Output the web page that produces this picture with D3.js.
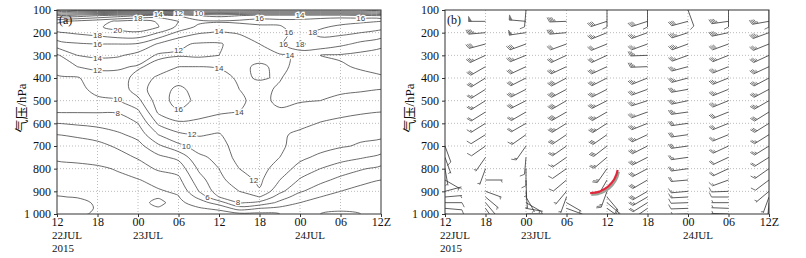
<!DOCTYPE html>
<html lang="zh">
<head>
<meta charset="UTF-8">
<title>风速时间-高度剖面</title>
<script src="https://d3js.org/d3.v7.min.js"></script>
<style>
  body { margin: 0; background: #fff; }
  .tick text, .tag { font-family: "Liberation Serif", "Times New Roman", serif; font-size: 12px; fill: #111; }
  .date { font-family: "Liberation Serif", "Times New Roman", serif; font-size: 11px; fill: #111; }
  .ylab { font-family: "Liberation Serif", "Noto Sans CJK SC", serif; font-size: 13px; fill: #111; }
  .grid line { stroke: #aaa; stroke-width: 0.8; stroke-dasharray: 1,2; }
  .iso { fill: none; stroke: #3a3a3a; stroke-width: 0.75; }
  .clabel { font-family: "Liberation Sans", Arial, sans-serif; font-size: 8px; fill: #444;
            stroke: #fff; stroke-width: 2.5px; paint-order: stroke; text-anchor: middle; dominant-baseline: central; }
</style>
</head>
<body>
<div id="chart"></div>
<script>
// hours since 12Z 22 JUL 2015
const hours = [0, 3, 6, 9, 12, 15, 18, 21, 24, 27, 30, 33, 36, 39, 42, 45, 48];
const levels = [100, 125, 150, 175, 200, 250, 300, 350, 400, 450, 500, 550, 600, 650, 700, 750, 800, 850, 900, 925, 950, 975, 1000];

// wind speed (m/s), one row per hour, values follow `levels`
const speedByHour = [
  [3, 12, 17.5, 19, 17.8, 15.2, 11.7, 10.9, 9.7, 9.3, 9.0, 8.1, 6.0, 4.0, 3.0, 2.2, 1.6, 1.3, 1.6, 2.1, 3.0, 3.0, 2.6],
  [3, 13, 18.5, 19.5, 18.3, 15.8, 14.0, 12.0, 9.8, 9.4, 9.1, 8.1, 6.3, 4.3, 3.1, 2.3, 1.7, 1.4, 1.5, 1.9, 2.6, 2.8, 2.5],
  [3, 14, 19.3, 19.8, 18.8, 16.0, 14.5, 12.4, 11.2, 10.6, 9.6, 8.1, 6.6, 4.8, 3.4, 2.5, 1.8, 1.5, 1.4, 1.5, 1.7, 1.8, 1.6],
  [3, 15, 20.3, 20.5, 19.6, 16.0, 14.3, 12.3, 11.3, 10.7, 9.9, 8.1, 7.2, 5.6, 4.3, 3.2, 2.1, 1.7, 1.5, 1.5, 1.5, 1.5, 1.3],
  [3, 16, 20.8, 21.0, 19.8, 15.8, 13.3, 11.8, 12.5, 13.0, 11.5, 9.6, 8.0, 6.7, 5.3, 4.2, 3.0, 1.9, 1.5, 1.5, 1.6, 1.5, 1.2],
  [3.5, 17, 19.8, 20.1, 18.0, 13.8, 11.7, 12.5, 14.5, 15.2, 15.0, 14.3, 12.3, 10.0, 7.6, 5.5, 4.3, 2.6, 1.8, 1.9, 2.3, 1.9, 1.3],
  [4, 16, 18, 17.5, 15.5, 12.3, 11.8, 14.0, 15.2, 16.4, 16.8, 15.8, 13.6, 11.6, 9.5, 6.5, 4.8, 3.5, 2.3, 1.9, 1.5, 1.2, 0.9],
  [4, 14, 16.5, 15.5, 14.2, 11.8, 11.6, 14.0, 14.8, 15.3, 15.5, 14.8, 13.5, 12.2, 10.8, 9.6, 8.3, 7.2, 6.0, 4.5, 3.0, 1.8, 1.0],
  [4, 13.5, 16.2, 15, 13.8, 11.8, 12.0, 13.9, 14.5, 14.8, 14.8, 14.2, 13.2, 11.8, 11.0, 10.5, 10.0, 9.5, 9.0, 8.0, 5.0, 2.5, 1.0],
  [4, 14, 16.5, 15, 14.2, 12.8, 12.8, 13.6, 13.8, 14.0, 14.2, 14.0, 13.9, 13.5, 13.2, 12.8, 12.0, 11.0, 10.0, 9.0, 8.2, 5.0, 1.5],
  [4, 15, 16.8, 15.5, 14.5, 14.0, 13.3, 14.3, 14.1, 13.6, 13.6, 13.8, 13.9, 13.5, 13.3, 13.0, 12.7, 12.4, 11.8, 10.0, 7.5, 4.0, 1.5],
  [4, 15, 16.5, 15.8, 14.8, 15.5, 13.8, 13.6, 13.9, 14.2, 14.3, 13.8, 12.8, 12.3, 12.3, 12.0, 11.2, 10.0, 8.5, 7.0, 5.5, 3.5, 2.0],
  [4, 15, 16.5, 17, 17.5, 18.2, 14.2, 14.5, 14.8, 14.6, 14.2, 13.0, 12.5, 11.6, 11.3, 10.5, 9.2, 7.8, 6.2, 5.0, 4.0, 3.0, 2.0],
  [4, 15, 17, 17.8, 18.3, 17.5, 14.0, 14.5, 15.0, 14.8, 14.0, 12.8, 11.9, 11.0, 10.8, 9.5, 8.0, 6.5, 5.0, 4.0, 3.2, 2.6, 2.0],
  [4, 15, 17.5, 18.3, 18.5, 16.5, 13.8, 14.2, 14.8, 14.4, 13.5, 12.5, 11.5, 10.0, 10.2, 8.8, 7.0, 5.5, 4.0, 3.2, 2.5, 2.2, 1.8],
  [4, 14.5, 17.8, 18.5, 18.0, 15.5, 13.4, 13.8, 14.5, 14.2, 13.3, 12.2, 11.2, 10.4, 9.8, 8.2, 6.2, 4.7, 3.2, 2.4, 2.2, 2.6, 2.0],
  [4, 14, 18, 18.5, 17.5, 14.5, 13.2, 13.5, 14.2, 14.0, 13.2, 12.0, 11.0, 10.5, 9.2, 7.5, 5.5, 4.0, 2.8, 2.0, 2.5, 3.0, 2.5]
];

const contourLevels = [2, 4, 6, 8, 10, 12, 14, 16, 18, 20];

// contour labels: [hour, hPa, value]
const labelSpots = [
  [6.1, 109, 4], [12.5, 125, 18], [15.0, 118, 14], [17.5, 118, 12], [19.7, 113, 10], [27.1, 104, 6],
  [30.4, 140, 16], [34.8, 144, 14], [36.0, 122, 18], [34.8, 179, 16], [46.4, 131, 16],
  [10.4, 175, 20], [4.6, 215, 18], [6.1, 250, 16], [17.9, 224, 12], [23.7, 184, 14],
  [6.1, 316, 14], [6.1, 360, 12], [23.9, 351, 14], [9.0, 488, 10], [8.9, 554, 8], [17.9, 541, 16],
  [19.4, 643, 12], [19.7, 704, 10], [28.6, 594, 14], [29.8, 841, 12], [34.1, 268, 16],
  [36.1, 263, 18], [36.1, 298, 14], [21.2, 978, 6], [25.6, 965, 8]
];

// wind barbs (b): stations every 6 h
const barbHours = [0, 6, 12, 18, 24, 30, 36, 42, 48];
const barbLevels = [100, 150, 200, 250, 300, 350, 400, 450, 500, 550, 600, 650, 700, 750, 800, 850, 900, 925, 950, 975, 1000];
// direction wind blows from (deg), one row per barb hour
const dirByHour = [
  [330, 250, 250, 250, 250, 250, 250, 250, 250, 250, 250, 240, 160, 160, 170, 120, 75, 85, 90, 95, 100],
  [330, 270, 265, 255, 245, 240, 238, 238, 238, 238, 238, 238, 235, 215, 200, 90, 110, 130, 140, 145, 150],
  [185, 275, 262, 250, 248, 245, 243, 243, 243, 240, 240, 235, 215, 185, 180, 178, 175, 150, 120, 100, 90],
  [330, 268, 265, 250, 245, 245, 242, 242, 240, 240, 238, 236, 235, 235, 235, 230, 220, 200, 120, 110, 100],
  [180, 252, 248, 248, 245, 245, 243, 243, 243, 240, 237, 235, 232, 230, 215, 210, 200, 140, 130, 125, 120],
  [180, 252, 250, 250, 268, 268, 248, 250, 252, 250, 248, 245, 243, 243, 242, 240, 240, 240, 238, 235, 235],
  [160, 255, 252, 250, 250, 255, 255, 260, 258, 262, 262, 262, 262, 262, 262, 265, 265, 267, 268, 268, 268],
  [180, 262, 258, 250, 248, 248, 248, 248, 248, 248, 248, 248, 245, 245, 245, 250, 268, 270, 270, 272, 272],
  [180, 260, 250, 248, 245, 245, 242, 242, 240, 238, 238, 238, 238, 238, 235, 233, 230, 200, 185, 182, 180]
];

const pressureTicks = [100, 200, 300, 400, 500, 600, 700, 800, 900, 1000];
const hourTicks = [0, 6, 12, 18, 24, 30, 36, 42, 48];
const hourLabels = ["12", "18", "00", "06", "12", "18", "00", "06", "12Z"];
const dateLabels = [{ h: 0, lines: ["22JUL", "2015"] }, { h: 12, lines: ["23JUL"] }, { h: 36, lines: ["24JUL"] }];
const circled = { h: 21.5, p: 784 };

const svg = d3.select("#chart").append("svg")
  .attr("width", 806).attr("height", 258)
  .style("background", "#fff");

const y = d3.scaleLinear().domain([100, 1000]).range([10, 214]);
const panels = [
  { id: "a", left: 57, right: 381 },
  { id: "b", left: 445, right: 769 }
];

panels.forEach(pn => {
  pn.x = d3.scaleLinear().domain([0, 48]).range([pn.left, pn.right]);
  svg.append("clipPath").attr("id", "clip-" + pn.id)
    .append("rect").attr("x", pn.left).attr("y", 10)
    .attr("width", pn.right - pn.left).attr("height", 204);

  const grid = svg.append("g").attr("class", "grid");
  grid.selectAll("line.v").data(hourTicks.slice(1, -1)).join("line")
    .attr("x1", d => pn.x(d)).attr("x2", d => pn.x(d)).attr("y1", 10).attr("y2", 214);
  grid.selectAll("line.h").data(pressureTicks.slice(1, -1)).join("line")
    .attr("x1", pn.left).attr("x2", pn.right).attr("y1", d => y(d)).attr("y2", d => y(d));

  pn.plot = svg.append("g").attr("clip-path", `url(#clip-${pn.id})`);

  svg.append("g").attr("transform", `translate(${pn.left},0)`).attr("color", "#333")
    .call(d3.axisLeft(y).tickValues(pressureTicks).tickSize(3).tickPadding(3)
      .tickFormat(d => d === 1000 ? "1 000" : d))
    .call(a => a.select(".domain").remove());

  svg.append("g").attr("transform", "translate(0,214)").attr("color", "#333")
    .call(d3.axisBottom(pn.x).tickValues(hourTicks).tickSize(3).tickPadding(0)
      .tickFormat((d, i) => hourLabels[i]))
    .call(a => a.select(".domain").remove());

  dateLabels.forEach(dl => {
    dl.lines.forEach((s, k) => {
      svg.append("text").attr("class", "date")
        .attr("x", pn.x(dl.h) - 5).attr("y", 238.5 + k * 13).text(s);
    });
  });

  svg.append("rect").attr("x", pn.left).attr("y", 10)
    .attr("width", pn.right - pn.left).attr("height", 204)
    .attr("fill", "none").attr("stroke", "#333").attr("stroke-width", 1);

  svg.append("text").attr("class", "tag").attr("x", pn.left + 2).attr("y", 24).text(`(${pn.id})`);

  svg.append("text").attr("class", "ylab")
    .attr("transform", `translate(${pn.left - 31},108) rotate(-90)`)
    .attr("text-anchor", "middle").text("气压/hPa");
});

// ---- (a) contours of wind speed
function piece(arr, f) {
  const k = Math.max(0, Math.min(arr.length - 2, Math.floor(f)));
  return arr[k] + (f - k) * (arr[k + 1] - arr[k]);
}
const nx = hours.length, ny = levels.length;
const values = [];
for (let j = 0; j < ny; j++) for (let i = 0; i < nx; i++) values.push(speedByHour[i][j]);
const isolines = d3.contours().size([nx, ny]).thresholds(contourLevels)(values);

const pa = panels[0];
const toPx = c => [pa.x(piece(hours, c[0] - 0.5)), y(piece(levels, c[1] - 0.5))];
const ringLine = d3.line().curve(d3.curveCatmullRomClosed.alpha(0.5));

isolines.forEach(geo => {
  geo.coordinates.forEach(poly => poly.forEach(ring => {
    pa.plot.append("path").attr("class", "iso").attr("d", ringLine(ring.map(toPx)));
  }));
});

labelSpots.forEach(([h, p, v]) => {
  const geo = isolines.find(g => g.value === v);
  if (!geo) return;
  const tx = pa.x(h), ty = y(p);
  let best = null, bd = Infinity;
  geo.coordinates.forEach(poly => poly.forEach(ring => ring.forEach(c => {
    const q = toPx(c);
    if (q[0] < pa.left + 4 || q[0] > pa.right - 4 || q[1] < 13 || q[1] > 211) return;
    const d = Math.hypot(q[0] - tx, q[1] - ty);
    if (d < bd) { bd = d; best = q; }
  })));
  if (!best || bd > 22) return;
  pa.plot.append("text").attr("class", "clabel").attr("x", best[0]).attr("y", best[1]).text(v);
});

// ---- (b) wind barbs
const pb = panels[1];
function barb(g, sx, sy, dir, spd) {
  const a = dir * Math.PI / 180;
  const dx = Math.sin(a), dy = -Math.cos(a);
  const px = -dy, py = dx;
  const L = 17;
  g.append("line").attr("x1", sx).attr("y1", sy).attr("x2", sx + dx * L).attr("y2", sy + dy * L)
    .attr("stroke", "#333").attr("stroke-width", 0.8);
  let s = Math.round(spd / 2) * 2;
  const flags = Math.floor(s / 20); s -= flags * 20;
  const full = Math.floor(s / 4); s -= full * 4;
  const half = s >= 2 ? 1 : 0;
  let pos = L;
  for (let k = 0; k < flags; k++) {
    const b0 = [sx + dx * pos, sy + dy * pos], b1 = [sx + dx * (pos - 3), sy + dy * (pos - 3)];
    const tip = [b0[0] + px * 5, b0[1] + py * 5];
    g.append("path").attr("d", `M${b0}L${tip}L${b1}Z`).attr("fill", "#777").attr("stroke", "#555").attr("stroke-width", 0.5);
    pos -= 3.4;
  }
  const feather = len => {
    const bx = sx + dx * pos, by = sy + dy * pos;
    g.append("line").attr("x1", bx).attr("y1", by)
      .attr("x2", bx + px * len + dx * len * 0.5).attr("y2", by + py * len + dy * len * 0.5)
      .attr("stroke", "#666").attr("stroke-width", 0.9);
    pos -= 1.5;
  };
  for (let k = 0; k < full; k++) feather(4.5);
  if (half) { if (full + flags === 0) pos -= 1.5; feather(2.5); }
}

barbHours.forEach((h, i) => {
  const col = hours.indexOf(h);
  barbLevels.forEach((p, j) => {
    const spd = speedByHour[col][levels.indexOf(p)];
    barb(pb.plot, pb.x(h), y(p), dirByHour[i][j], spd);
  });
});

// circled feature
const cx = pb.x(circled.h), cy = y(circled.p);
const arcPath = (ox, oy) => { const ph = d3.path(); ph.arc(cx + ox, cy + oy, 28, Math.PI / 2, 0.18, true); return ph.toString(); };
svg.append("path").attr("d", arcPath(1.2, 1.8)).attr("fill", "none").attr("stroke", "#9aa59a").attr("stroke-width", 2.2);
svg.append("path").attr("d", arcPath(0, 0)).attr("fill", "none").attr("stroke", "#e0283c").attr("stroke-width", 2.2);
</script>
</body>
</html>
